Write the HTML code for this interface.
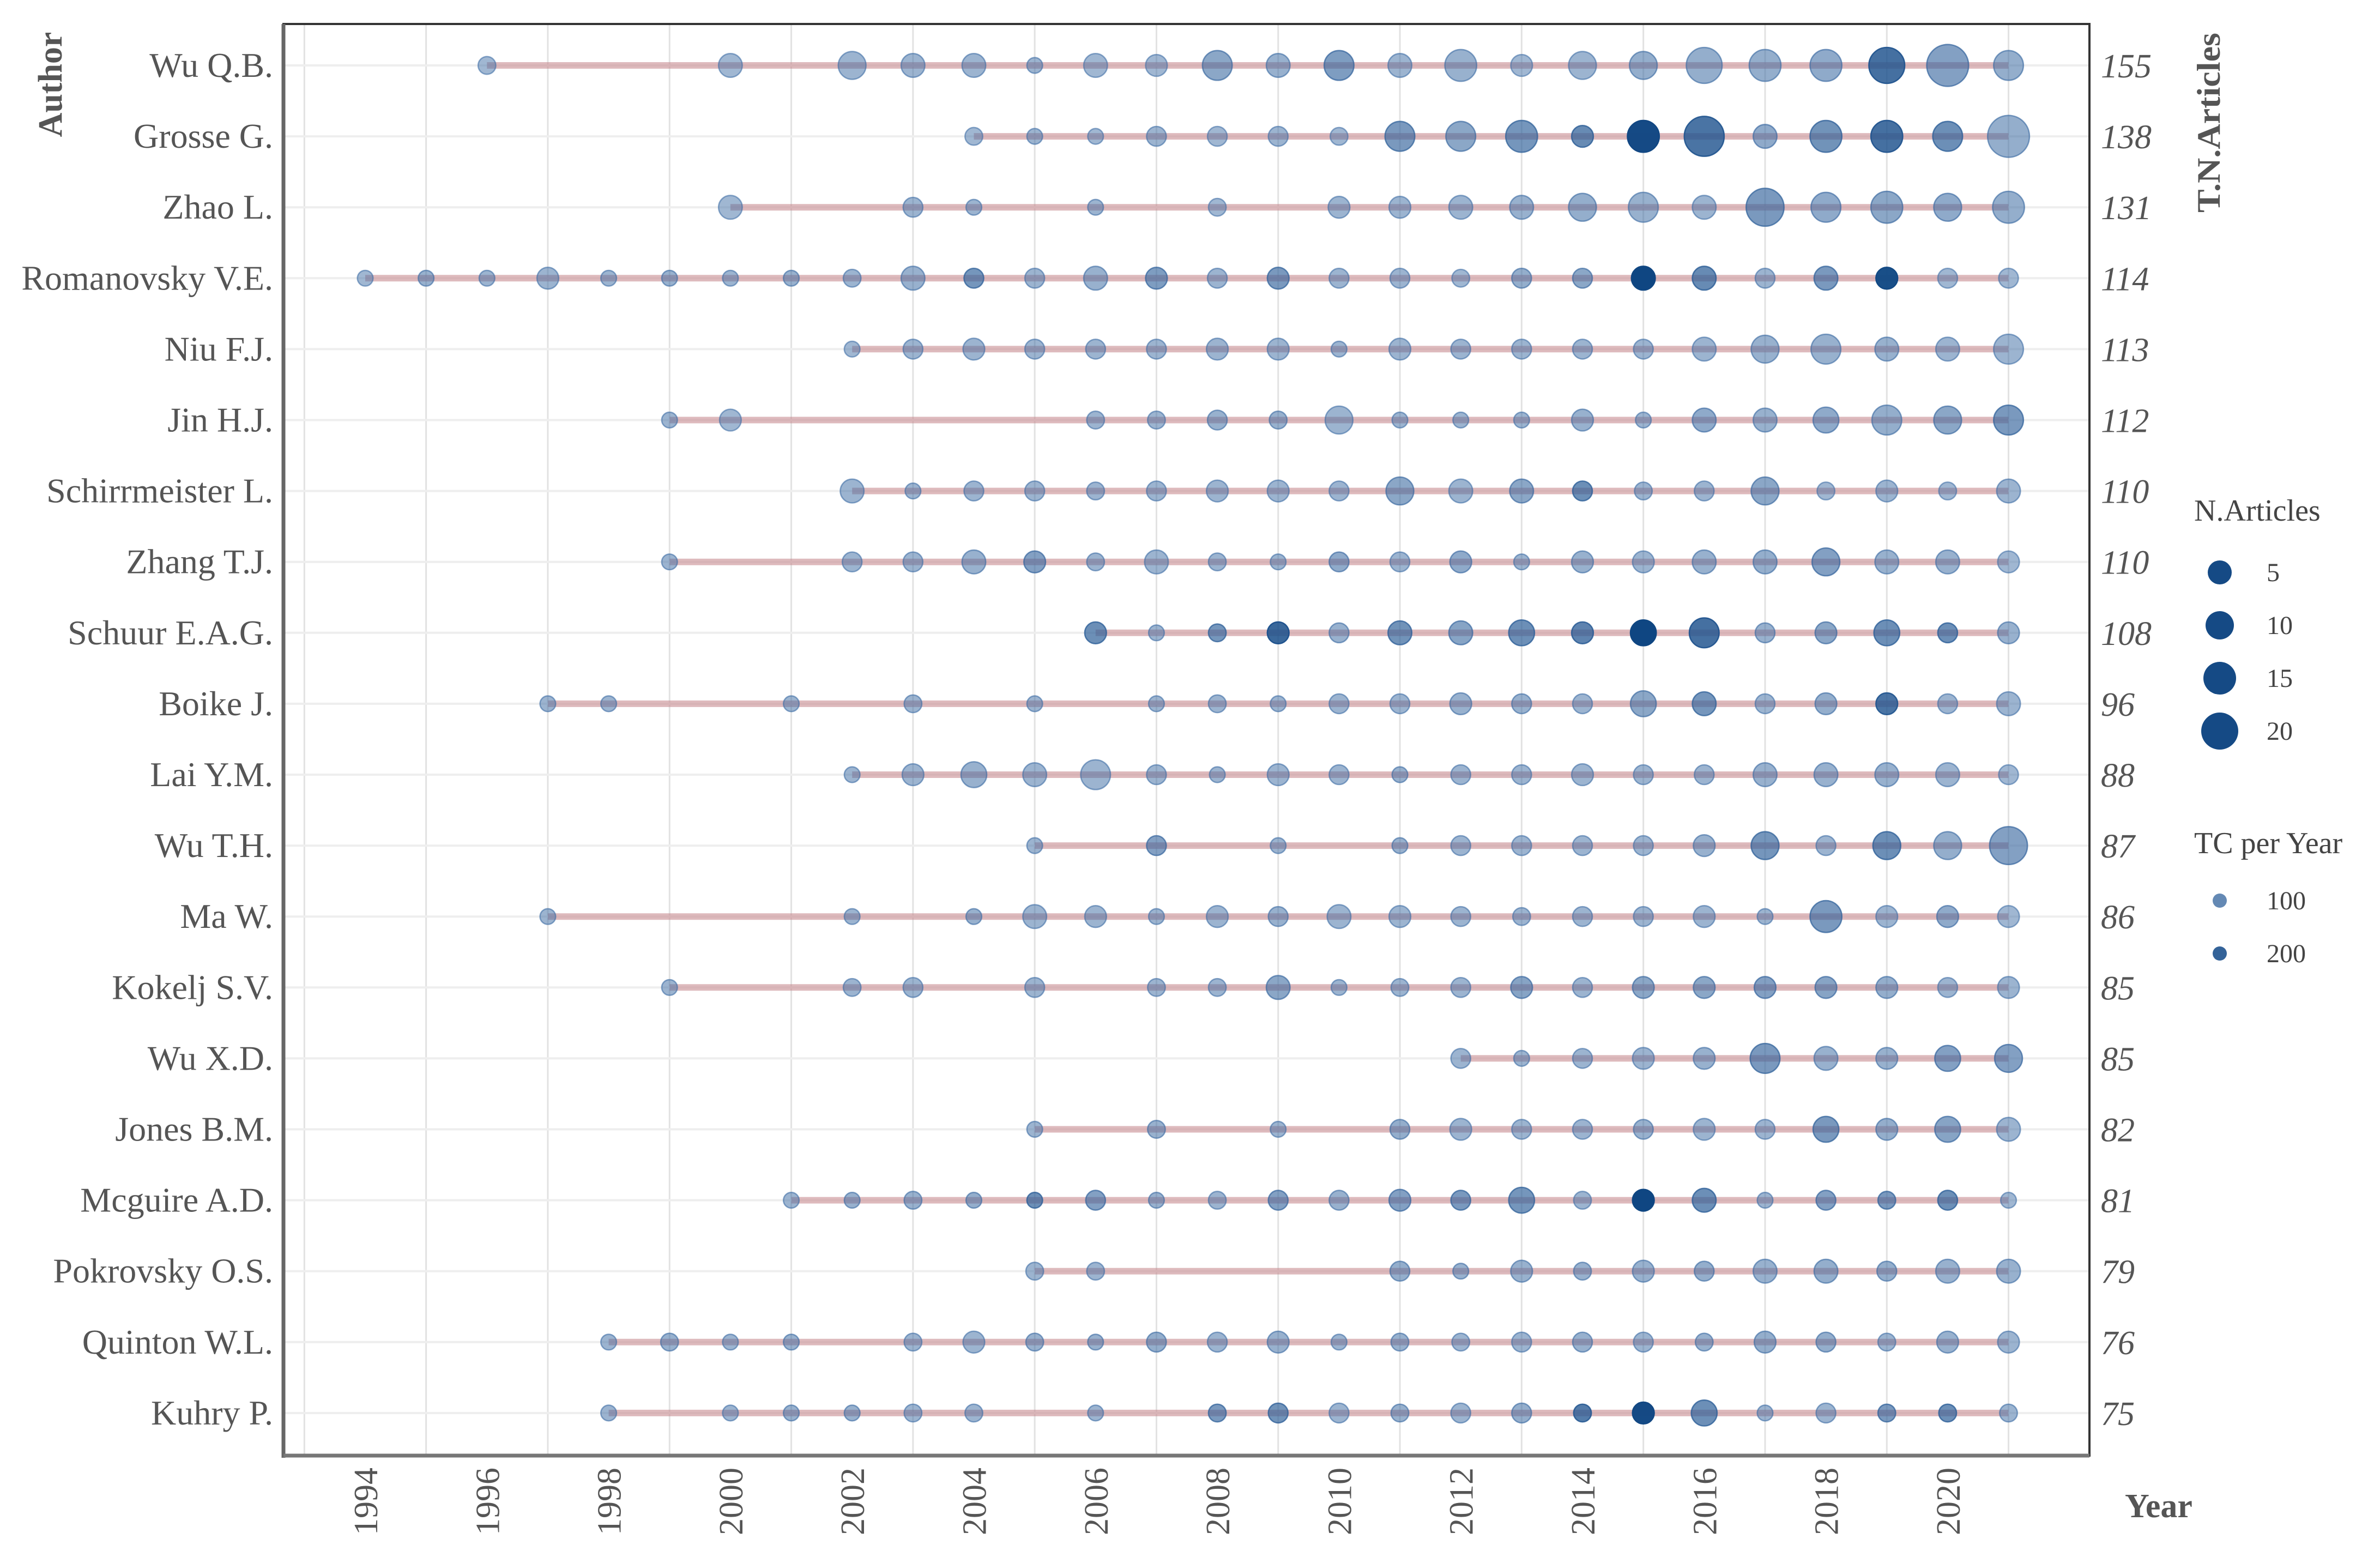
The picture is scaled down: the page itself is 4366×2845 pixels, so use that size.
<!DOCTYPE html>
<html><head><meta charset="utf-8"><style>
html,body{margin:0;padding:0;background:#fff;}
svg{display:block;}
text{font-family:"Liberation Serif",serif;}
</style></head><body>
<svg id="chart" width="4366" height="2845" viewBox="0 0 4366 2845" xmlns="http://www.w3.org/2000/svg">
<g id="grid"></g>
<g id="segs"></g>
<g id="dots"></g>
<g id="axes"></g>
<text x="0" y="0" transform="translate(113,155) rotate(-90)" text-anchor="middle" font-size="62" font-weight="bold" fill="#555">Author</text>
<text x="0" y="0" transform="translate(4072,225) rotate(-90)" text-anchor="middle" font-size="60" font-weight="bold" fill="#555" textLength="330" lengthAdjust="spacingAndGlyphs">T.N.Articles</text>
<text x="3898" y="2783" font-size="62" font-weight="bold" fill="#555">Year</text>
<g id="legend">
<text x="4025" y="955" font-size="56" fill="#444">N.Articles</text>
<text x="4025" y="1565" font-size="56" fill="#444">TC per Year</text>
</g>
</svg>
<script>
const authors=["Wu Q.B.","Grosse G.","Zhao L.","Romanovsky V.E.","Niu F.J.","Jin H.J.","Schirrmeister L.","Zhang T.J.","Schuur E.A.G.","Boike J.","Lai Y.M.","Wu T.H.","Ma W.","Kokelj S.V.","Wu X.D.","Jones B.M.","Mcguire A.D.","Pokrovsky O.S.","Quinton W.L.","Kuhry P."];
const totals=[155,138,131,114,113,112,110,110,108,96,88,87,86,85,85,82,81,79,76,75];
const yearTicks=[1994,1996,1998,2000,2002,2004,2006,2008,2010,2012,2014,2016,2018,2020];
// per author: [year, nArticles(size), TC per year]
const r0=[[1996,2,30],[2000,5,30],[2002,7,40],[2003,5,40],[2004,5,40],[2005,1,40],[2006,5,30],[2007,4,30],[2008,8,80],[2009,5,50],[2010,8,110],[2011,5,40],[2012,9,50],[2013,4,30],[2014,7,40],[2015,7,60],[2016,11,60],[2017,9,60],[2018,9,70],[2019,11,230],[2020,14,100],[2021,8,60]];
const r1=[[2004,2,30],[2005,1,40],[2006,1,30],[2007,3,40],[2008,3,30],[2009,3,40],[2010,2,30],[2011,8,120],[2012,8,80],[2013,9,130],[2014,4,160],[2015,9,320],[2016,13,220],[2017,5,70],[2018,9,140],[2019,9,230],[2020,8,150],[2021,14,60]];
const r2=[[2000,5,30],[2003,3,40],[2004,1,40],[2006,1,40],[2008,2,30],[2010,4,40],[2011,4,40],[2012,5,40],[2013,5,50],[2014,7,60],[2015,8,50],[2016,5,40],[2017,12,120],[2018,8,70],[2019,9,80],[2020,7,70],[2021,9,60]];
const r3=[[1994,1,30],[1995,1,50],[1996,1,40],[1997,4,40],[1998,1,40],[1999,1,50],[2000,1,40],[2001,1,50],[2002,2,40],[2003,5,50],[2004,3,130],[2005,3,40],[2006,5,50],[2007,4,110],[2008,3,40],[2009,4,120],[2010,3,40],[2011,3,40],[2012,2,30],[2013,3,60],[2014,3,80],[2015,5,330],[2016,5,160],[2017,3,40],[2018,5,120],[2019,4,310],[2020,3,30],[2021,3,30]];
const r4=[[2002,1,30],[2003,3,40],[2004,4,40],[2005,3,40],[2006,3,40],[2007,3,40],[2008,4,40],[2009,4,40],[2010,1,40],[2011,4,40],[2012,3,40],[2013,3,40],[2014,3,40],[2015,3,40],[2016,5,40],[2017,7,50],[2018,8,50],[2019,5,50],[2020,5,40],[2021,8,40]];
const r5=[[1999,1,40],[2000,4,30],[2006,2,40],[2007,2,40],[2008,3,50],[2009,2,50],[2010,7,40],[2011,1,40],[2012,1,40],[2013,1,40],[2014,4,50],[2015,1,40],[2016,5,70],[2017,5,50],[2018,6,70],[2019,8,60],[2020,7,80],[2021,8,120]];
const r6=[[2002,5,40],[2003,1,40],[2004,3,40],[2005,3,40],[2006,2,40],[2007,3,40],[2008,4,40],[2009,4,40],[2010,3,40],[2011,7,80],[2012,5,40],[2013,5,80],[2014,3,150],[2015,2,40],[2016,3,40],[2017,7,80],[2018,2,30],[2019,4,40],[2020,2,30],[2021,5,40]];
const r7=[[1999,1,40],[2002,3,40],[2003,3,40],[2004,5,50],[2005,4,100],[2006,2,40],[2007,5,40],[2008,2,40],[2009,1,40],[2010,3,70],[2011,3,40],[2012,4,70],[2013,1,40],[2014,4,50],[2015,4,40],[2016,5,50],[2017,5,60],[2018,7,100],[2019,5,50],[2020,5,50],[2021,4,30]];
const r8=[[2006,4,150],[2007,1,40],[2008,2,130],[2009,4,250],[2010,3,50],[2011,5,140],[2012,5,90],[2013,6,150],[2014,4,180],[2015,6,330],[2016,8,230],[2017,3,50],[2018,4,80],[2019,6,150],[2020,3,150],[2021,4,50]];
const r9=[[1997,1,40],[1998,1,40],[2001,1,40],[2003,2,40],[2005,1,40],[2007,1,40],[2008,2,40],[2009,1,40],[2010,3,40],[2011,3,40],[2012,4,50],[2013,3,50],[2014,3,40],[2015,6,80],[2016,5,130],[2017,3,40],[2018,4,60],[2019,4,220],[2020,3,40],[2021,5,40]];
const r10=[[2002,1,40],[2003,4,40],[2004,6,50],[2005,5,40],[2006,8,40],[2007,3,40],[2008,1,40],[2009,4,40],[2010,3,40],[2011,1,50],[2012,3,40],[2013,3,40],[2014,4,40],[2015,3,40],[2016,3,40],[2017,5,50],[2018,5,50],[2019,5,50],[2020,5,40],[2021,3,30]];
const r11=[[2005,1,40],[2007,3,100],[2009,1,40],[2011,1,50],[2012,3,40],[2013,3,40],[2014,3,40],[2015,3,40],[2016,4,50],[2017,7,130],[2018,3,40],[2019,7,150],[2020,7,60],[2021,12,100]];
const r12=[[1997,1,40],[2002,1,40],[2004,1,50],[2005,5,40],[2006,4,40],[2007,1,40],[2008,4,40],[2009,3,50],[2010,5,40],[2011,4,40],[2012,3,40],[2013,2,40],[2014,3,40],[2015,3,40],[2016,4,40],[2017,1,40],[2018,9,120],[2019,4,40],[2020,4,70],[2021,4,30]];
const r13=[[1999,1,40],[2002,2,40],[2003,3,40],[2005,3,40],[2007,2,40],[2008,2,40],[2009,5,80],[2010,1,40],[2011,2,40],[2012,3,40],[2013,4,90],[2014,3,40],[2015,4,80],[2016,4,80],[2017,4,100],[2018,4,90],[2019,4,60],[2020,3,40],[2021,4,40]];
const r14=[[2012,3,40],[2013,1,40],[2014,3,40],[2015,4,40],[2016,4,50],[2017,8,120],[2018,5,50],[2019,4,50],[2020,6,100],[2021,7,100]];
const r15=[[2005,1,40],[2007,2,50],[2009,1,40],[2011,3,60],[2012,4,40],[2013,3,40],[2014,3,40],[2015,3,50],[2016,4,40],[2017,3,40],[2018,6,120],[2019,4,60],[2020,6,90],[2021,5,40]];
const r16=[[2001,1,40],[2002,1,50],[2003,2,50],[2004,1,60],[2005,1,150],[2006,3,100],[2007,1,50],[2008,2,40],[2009,3,100],[2010,3,50],[2011,4,100],[2012,3,120],[2013,6,130],[2014,2,40],[2015,4,330],[2016,5,150],[2017,1,40],[2018,3,100],[2019,2,120],[2020,3,150],[2021,1,30]];
const r17=[[2005,2,40],[2006,2,40],[2011,3,60],[2012,1,50],[2013,4,50],[2014,2,50],[2015,4,50],[2016,3,60],[2017,5,50],[2018,5,60],[2019,3,60],[2020,5,50],[2021,5,50]];
const r18=[[1998,1,40],[1999,2,50],[2000,1,40],[2001,1,50],[2003,2,40],[2004,4,40],[2005,2,50],[2006,1,50],[2007,3,60],[2008,3,40],[2009,4,50],[2010,1,40],[2011,2,50],[2012,2,40],[2013,3,40],[2014,3,50],[2015,3,40],[2016,2,50],[2017,4,60],[2018,3,60],[2019,2,40],[2020,4,50],[2021,4,40]];
const r19=[[1998,1,40],[2000,1,40],[2001,1,50],[2002,1,50],[2003,2,40],[2004,2,40],[2006,1,40],[2008,2,120],[2009,3,140],[2010,3,40],[2011,2,50],[2012,3,40],[2013,3,60],[2014,2,200],[2015,4,320],[2016,6,150],[2017,1,40],[2018,3,40],[2019,2,120],[2020,2,150],[2021,2,40]];
const rows=[r0,r1,r2,r3,r4,r5,r6,r7,r8,r9,r10,r11,r12,r13,r14,r15,r16,r17,r18,r19];
const legendSizes=[5,10,15,20];
const legendTC=[100,200];

const NS="http://www.w3.org/2000/svg";
const L=520,R=3833,T=44,B=2670;
function xS(y){return 670+(y-1994)*111.65;}
function yS(i){return 120+i*130.1;}
function rS(n){return 12.5+1.85*n;}
function col(tc){const t=Math.max(0,Math.min(1,tc/330));
 const r=Math.round(70-55*t),g=Math.round(115-45*t),b=Math.round(170-40*t);
 return {c:`rgb(${r},${g},${b})`,o:0.45+0.55*t};}
function mk(tag,attrs,parent){const e=document.createElementNS(NS,tag);for(const k in attrs)e.setAttribute(k,attrs[k]);parent.appendChild(e);return e;}
const grid=document.getElementById('grid'),segs=document.getElementById('segs'),dots=document.getElementById('dots'),axes=document.getElementById('axes'),svg=document.getElementById('chart'),leg=document.getElementById('legend');

for(let y=1993;y<=2022;y+=2){const gl=mk('line',{x1:xS(y),x2:xS(y),y1:T,y2:B,stroke:'#e2e2e2','stroke-width':3},grid);

}
authors.forEach((a,i)=>{const gl=mk('line',{x1:L,x2:R,y1:yS(i),y2:yS(i),stroke:'#eeeeee','stroke-width':4},grid);


 const t=mk('text',{x:501,y:yS(i)+21,'text-anchor':'end','font-size':64,fill:'#555'},axes);t.textContent=a;
 
 
 const tt=mk('text',{x:3854,y:yS(i)+22,'font-size':62,'font-style':'italic',fill:'#555'},axes);tt.textContent=totals[i];
 
 
 const d=rows[i];const first=d[0][0],last=d[d.length-1][0];
 const s=mk('line',{x1:xS(first),x2:xS(last),y1:yS(i),y2:yS(i),stroke:'rgb(200,140,145)','stroke-opacity':0.6,'stroke-width':12},segs);
 
 
 d.forEach(p=>{const c=col(p[2]);const ci=mk('circle',{cx:xS(p[0]),cy:yS(i),r:rS(p[1]),fill:c.c,'fill-opacity':c.o,stroke:c.c,'stroke-opacity':Math.min(1,c.o+0.1),'stroke-width':2.5},dots);
 
 });
});
yearTicks.forEach(y=>{const t=mk('text',{x:0,y:0,transform:`translate(${xS(y)+22},2692) rotate(-90)`,'text-anchor':'end','font-size':62,fill:'#555'},axes);t.textContent=y;

});
const fr=mk('rect',{x:L,y:T,width:R-L,height:B-T,fill:'none',stroke:'#333','stroke-width':4},axes);


const la=mk('line',{x1:L,x2:L,y1:T,y2:B+4,stroke:'#666','stroke-width':7},axes);


const ba=mk('line',{x1:L,x2:R,y1:B,y2:B,stroke:'#777','stroke-width':7},axes);


// legend
const lr=[22,26,30,34];
legendSizes.forEach((v,k)=>{const cy=1050+k*97;
 const c=mk('circle',{cx:4072,cy:cy,r:lr[k],fill:'#154a85'},leg);
 
 
 const t=mk('text',{x:4158,y:cy+16,'font-size':48,fill:'#444'},leg);t.textContent=v;
 
 });
legendTC.forEach((v,k)=>{const cy=1652+k*97;const c2=col(v);
 const c=mk('circle',{cx:4072,cy:cy,r:13,fill:c2.c,'fill-opacity':Math.min(1,c2.o+0.15)},leg);
 
 
 const t=mk('text',{x:4158,y:cy+16,'font-size':48,fill:'#444'},leg);t.textContent=v;
 
 });
</script>
</body></html>
